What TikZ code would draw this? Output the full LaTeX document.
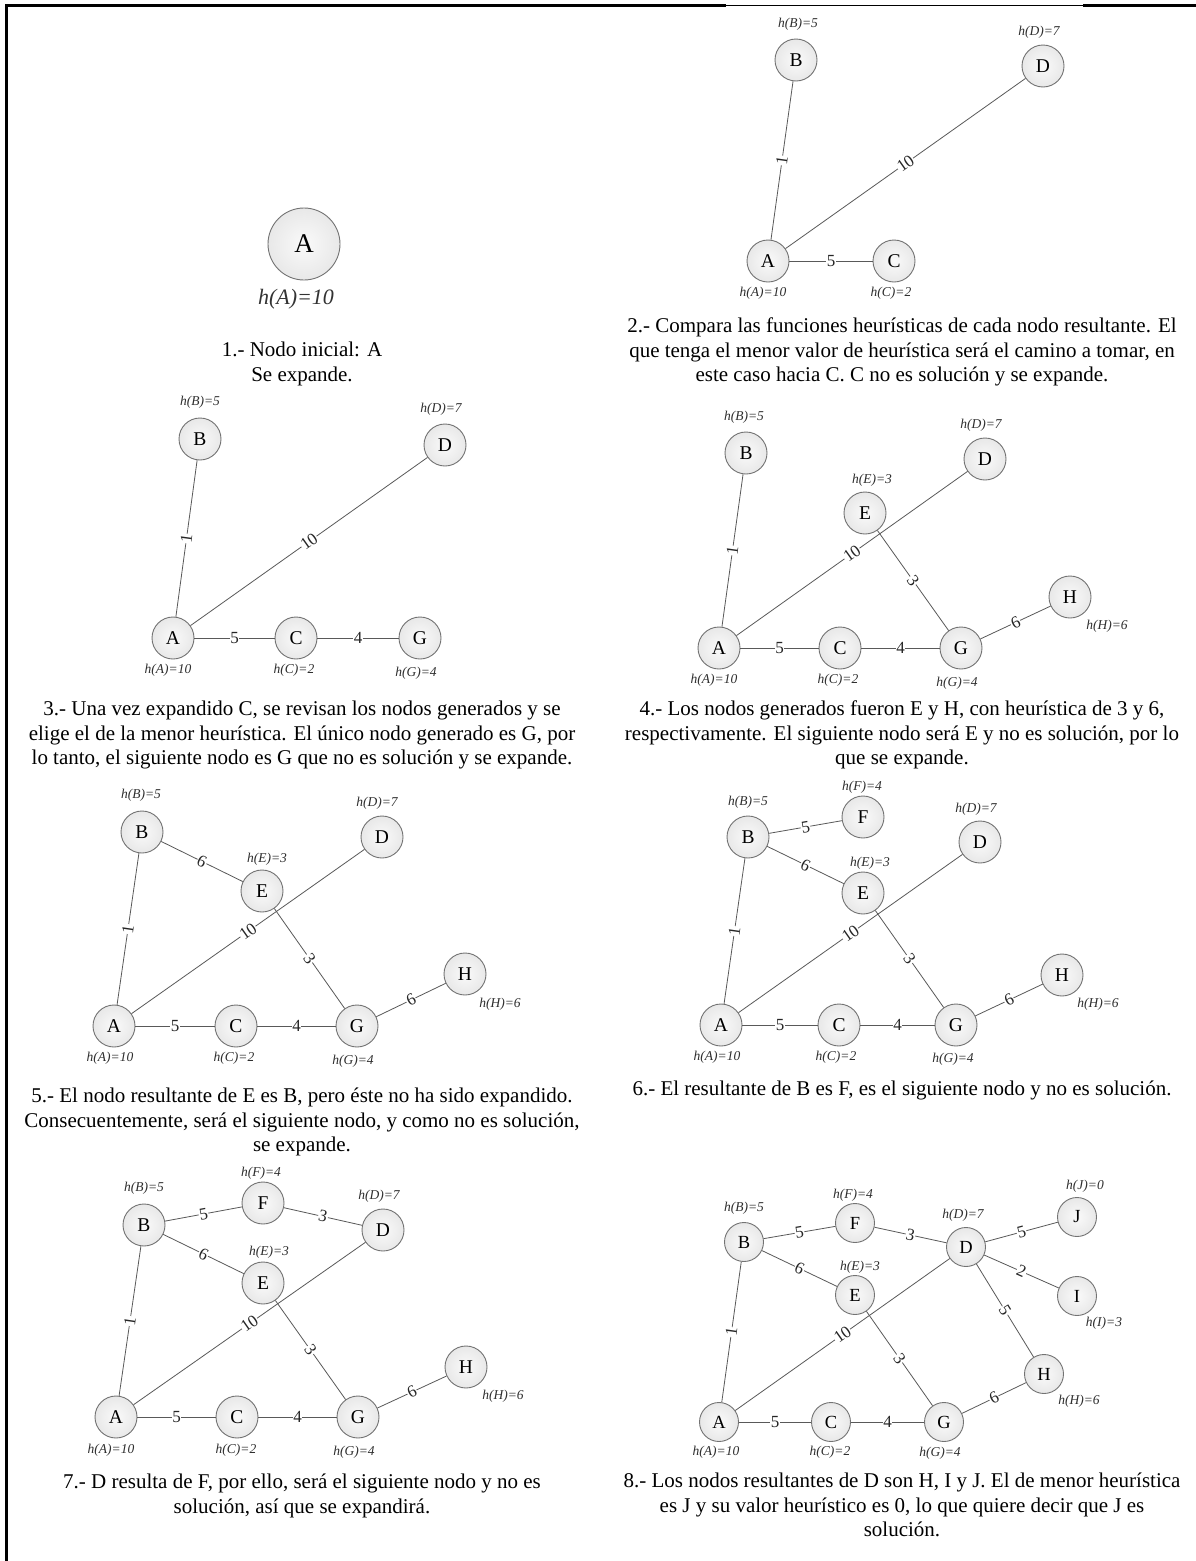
\documentclass[tikz,border=0pt]{standalone}
\usepackage{fontspec}
\setmainfont{Liberation Serif}
\begin{document}
\begin{tikzpicture}[x=1pt,y=-1pt,
  nd/.style={circle,draw=black!55,inner color=black!2,outer color=black!9,line width=0.9pt,minimum size=42pt,inner sep=0pt,font=\fontsize{19.5}{19.5}\selectfont},
  ndsm/.style={nd,minimum size=39pt,font=\fontsize{18.5}{18.5}\selectfont},
  ndbig/.style={nd,minimum size=72pt,font=\fontsize{27}{27}\selectfont},
  hl/.style={inner sep=0pt,text=black!82,font=\fontsize{13.5}{13.5}\selectfont\itshape},
  hbig/.style={inner sep=0pt,text=black!80,font=\fontsize{22}{22}\selectfont\itshape},
  ed/.style={draw=black!65,line width=0.8pt},
  el/.style={midway,sloped,fill=white,inner sep=0.6pt,text=black!85,font=\fontsize{17}{17}\selectfont},
  captxt/.style={anchor=north,align=center,inner sep=0pt,font=\fontsize{21}{24.4}\selectfont}]

\useasboundingbox (0,0) rectangle (1196,1561);
\fill[white] (0,0) rectangle (1196,1561);

% border
\draw[line width=2.5pt] (6.5,1561) -- (6.5,5.5) -- (726,5.5);
\draw[line width=1pt] (726,5.5) -- (1083,5.5);
\draw[line width=2.5pt] (1083,5.5) -- (1196,5.5);

% ---------- panel 1
\node[ndbig] (p1A) at (304,244) {A};
\node[hbig] (p1hA) at (296,299) {h(A)=10};
\node[captxt] (cap1) at (302,342) {1.- Nodo inicial: A\\Se expande.};

% ---------- panel 2
\node[nd] (p2B) at (796,60) {B};
\node[nd] (p2D) at (1043,66) {D};
\node[nd] (p2A) at (768,261) {A};
\node[nd] (p2C) at (894,261) {C};
\node[hl] (p2hB) at (798,24) {h(B)=5};
\node[hl] (p2hD) at (1039,32) {h(D)=7};
\node[hl] (p2hA) at (763,293) {h(A)=10};
\node[hl] (p2hC) at (891,293) {h(C)=2};
\draw[ed] (p2A) -- node[el] {1} (p2B);
\draw[ed] (p2A) -- node[el] {10} (p2D);
\draw[ed] (p2A) -- node[el] {5} (p2C);
\node[captxt] (cap2) at (902,318) {2.- Compara las funciones heurísticas de cada nodo resultante. El\\que tenga el menor valor de heurística será el camino a tomar, en\\este caso hacia C. C no es solución y se expande.};

% ---------- panel 3
\node[nd] (p3B) at (200,439) {B};
\node[nd] (p3D) at (445,445) {D};
\node[nd] (p3A) at (173,638) {A};
\node[nd] (p3C) at (296,638) {C};
\node[nd] (p3G) at (420,638) {G};
\node[hl] (p3hB) at (200,402) {h(B)=5};
\node[hl] (p3hD) at (441,409) {h(D)=7};
\node[hl] (p3hA) at (168,670) {h(A)=10};
\node[hl] (p3hC) at (294,670) {h(C)=2};
\node[hl] (p3hG) at (416,673) {h(G)=4};
\draw[ed] (p3A) -- node[el] {1} (p3B);
\draw[ed] (p3A) -- node[el] {10} (p3D);
\draw[ed] (p3A) -- node[el] {5} (p3C);
\draw[ed] (p3C) -- node[el] {4} (p3G);
\node[captxt] (cap3) at (302,701) {3.- Una vez expandido C, se revisan los nodos generados y se\\elige el de la menor heurística. El único nodo generado es G, por\\lo tanto, el siguiente nodo es G que no es solución y se expande.};

% ---------- panel 4
\node[nd] (p4B) at (746,453) {B};
\node[nd] (p4D) at (985,459) {D};
\node[nd] (p4E) at (865,513) {E};
\node[nd] (p4H) at (1070,597) {H};
\node[nd] (p4A) at (719,648) {A};
\node[nd] (p4C) at (840,648) {C};
\node[nd] (p4G) at (961,648) {G};
\node[hl] (p4hB) at (744,417) {h(B)=5};
\node[hl] (p4hD) at (981,425) {h(D)=7};
\node[hl] (p4hE) at (872,480) {h(E)=3};
\node[hl] (p4hH) at (1107,626) {h(H)=6};
\node[hl] (p4hA) at (714,680) {h(A)=10};
\node[hl] (p4hC) at (838,680) {h(C)=2};
\node[hl] (p4hG) at (957,683) {h(G)=4};
\draw[ed] (p4A) -- node[el] {1} (p4B);
\draw[ed] (p4A) -- node[el] {10} (p4D);
\draw[ed] (p4A) -- node[el] {5} (p4C);
\draw[ed] (p4C) -- node[el] {4} (p4G);
\draw[ed] (p4E) -- node[el] {3} (p4G);
\draw[ed] (p4G) -- node[el] {6} (p4H);
\node[captxt] (cap4) at (902,701) {4.- Los nodos generados fueron E y H, con heurística de 3 y 6,\\respectivamente. El siguiente nodo será E y no es solución, por lo\\que se expande.};

% ---------- panel 5
\node[nd] (p5B) at (142,832) {B};
\node[nd] (p5D) at (382,837) {D};
\node[nd] (p5E) at (262,891) {E};
\node[nd] (p5H) at (465,974) {H};
\node[nd] (p5A) at (114,1026) {A};
\node[nd] (p5C) at (236,1026) {C};
\node[nd] (p5G) at (357,1026) {G};
\node[hl] (p5hB) at (141,795) {h(B)=5};
\node[hl] (p5hD) at (377,803) {h(D)=7};
\node[hl] (p5hE) at (267,859) {h(E)=3};
\node[hl] (p5hH) at (500,1004) {h(H)=6};
\node[hl] (p5hA) at (110,1058) {h(A)=10};
\node[hl] (p5hC) at (234,1058) {h(C)=2};
\node[hl] (p5hG) at (353,1061) {h(G)=4};
\draw[ed] (p5A) -- node[el] {1} (p5B);
\draw[ed] (p5A) -- node[el] {10} (p5D);
\draw[ed] (p5A) -- node[el] {5} (p5C);
\draw[ed] (p5C) -- node[el] {4} (p5G);
\draw[ed] (p5E) -- node[el] {3} (p5G);
\draw[ed] (p5G) -- node[el] {6} (p5H);
\draw[ed] (p5B) -- node[el] {6} (p5E);
\node[captxt] (cap5) at (302,1088) {5.- El nodo resultante de E es B, pero éste no ha sido expandido.\\Consecuentemente, será el siguiente nodo, y como no es solución,\\se expande.};

% ---------- panel 6
\node[nd] (p6F) at (863,817) {F};
\node[nd] (p6B) at (748,837) {B};
\node[nd] (p6D) at (980,842) {D};
\node[nd] (p6E) at (863,893) {E};
\node[nd] (p6H) at (1062,975) {H};
\node[nd] (p6A) at (721,1025) {A};
\node[nd] (p6C) at (839,1025) {C};
\node[nd] (p6G) at (956,1025) {G};
\node[hl] (p6hF) at (862,787) {h(F)=4};
\node[hl] (p6hB) at (748,802) {h(B)=5};
\node[hl] (p6hD) at (976,809) {h(D)=7};
\node[hl] (p6hE) at (870,863) {h(E)=3};
\node[hl] (p6hH) at (1098,1004) {h(H)=6};
\node[hl] (p6hA) at (717,1057) {h(A)=10};
\node[hl] (p6hC) at (836,1057) {h(C)=2};
\node[hl] (p6hG) at (953,1059) {h(G)=4};
\draw[ed] (p6A) -- node[el] {1} (p6B);
\draw[ed] (p6A) -- node[el] {10} (p6D);
\draw[ed] (p6A) -- node[el] {5} (p6C);
\draw[ed] (p6C) -- node[el] {4} (p6G);
\draw[ed] (p6E) -- node[el] {3} (p6G);
\draw[ed] (p6G) -- node[el] {6} (p6H);
\draw[ed] (p6B) -- node[el] {6} (p6E);
\draw[ed] (p6B) -- node[el] {5} (p6F);
\node[captxt] (cap6) at (902,1081) {6.- El resultante de B es F, es el siguiente nodo y no es solución.};

% ---------- panel 7
\node[nd] (p7F) at (263,1203) {F};
\node[nd] (p7B) at (144,1225) {B};
\node[nd] (p7D) at (383,1230) {D};
\node[nd] (p7E) at (263,1283) {E};
\node[nd] (p7H) at (466,1367) {H};
\node[nd] (p7A) at (116,1417) {A};
\node[nd] (p7C) at (237,1417) {C};
\node[nd] (p7G) at (358,1417) {G};
\node[hl] (p7hF) at (261,1173) {h(F)=4};
\node[hl] (p7hB) at (144,1188) {h(B)=5};
\node[hl] (p7hD) at (379,1196) {h(D)=7};
\node[hl] (p7hE) at (269,1252) {h(E)=3};
\node[hl] (p7hH) at (503,1396) {h(H)=6};
\node[hl] (p7hA) at (111,1450) {h(A)=10};
\node[hl] (p7hC) at (236,1450) {h(C)=2};
\node[hl] (p7hG) at (354,1452) {h(G)=4};
\draw[ed] (p7A) -- node[el] {1} (p7B);
\draw[ed] (p7A) -- node[el] {10} (p7D);
\draw[ed] (p7A) -- node[el] {5} (p7C);
\draw[ed] (p7C) -- node[el] {4} (p7G);
\draw[ed] (p7E) -- node[el] {3} (p7G);
\draw[ed] (p7G) -- node[el] {6} (p7H);
\draw[ed] (p7B) -- node[el] {6} (p7E);
\draw[ed] (p7B) -- node[el] {5} (p7F);
\draw[ed] (p7F) -- node[el] {3} (p7D);
\node[captxt] (cap7) at (302,1474) {7.- D resulta de F, por ello, será el siguiente nodo y no es\\solución, así que se expandirá.};

% ---------- panel 8
\node[ndsm] (p8J) at (1077,1217) {J};
\node[ndsm] (p8F) at (855,1223) {F};
\node[ndsm] (p8B) at (744,1242) {B};
\node[ndsm] (p8D) at (966,1247) {D};
\node[ndsm] (p8E) at (855,1295) {E};
\node[ndsm] (p8I) at (1077,1296) {I};
\node[ndsm] (p8H) at (1044,1374) {H};
\node[ndsm] (p8A) at (719,1422) {A};
\node[ndsm] (p8C) at (831,1422) {C};
\node[ndsm] (p8G) at (944,1422) {G};
\node[hl] (p8hJ) at (1085,1186) {h(J)=0};
\node[hl] (p8hF) at (853,1195) {h(F)=4};
\node[hl] (p8hB) at (744,1208) {h(B)=5};
\node[hl] (p8hD) at (963,1215) {h(D)=7};
\node[hl] (p8hE) at (860,1267) {h(E)=3};
\node[hl] (p8hI) at (1104,1323) {h(I)=3};
\node[hl] (p8hH) at (1079,1401) {h(H)=6};
\node[hl] (p8hA) at (716,1452) {h(A)=10};
\node[hl] (p8hC) at (830,1452) {h(C)=2};
\node[hl] (p8hG) at (940,1453) {h(G)=4};
\draw[ed] (p8A) -- node[el] {1} (p8B);
\draw[ed] (p8A) -- node[el] {10} (p8D);
\draw[ed] (p8A) -- node[el] {5} (p8C);
\draw[ed] (p8C) -- node[el] {4} (p8G);
\draw[ed] (p8E) -- node[el] {3} (p8G);
\draw[ed] (p8G) -- node[el] {6} (p8H);
\draw[ed] (p8B) -- node[el] {6} (p8E);
\draw[ed] (p8B) -- node[el] {5} (p8F);
\draw[ed] (p8F) -- node[el] {3} (p8D);
\draw[ed] (p8D) -- node[el] {5} (p8J);
\draw[ed] (p8D) -- node[el] {2} (p8I);
\draw[ed] (p8D) -- node[el] {5} (p8H);
\node[captxt] (cap8) at (902,1473) {8.- Los nodos resultantes de D son H, I y J. El de menor heurística\\es J y su valor heurístico es 0, lo que quiere decir que J es\\solución.};
\end{tikzpicture}
\end{document}
